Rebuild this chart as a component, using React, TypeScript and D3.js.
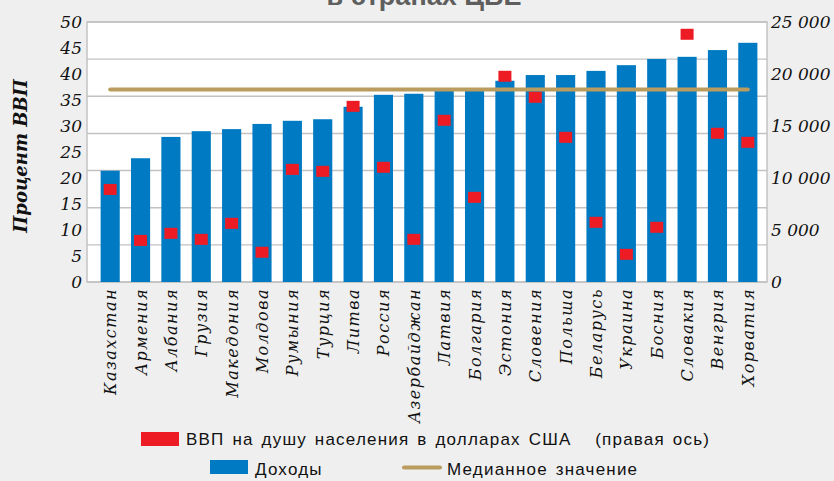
import React from "react";
import * as d3 from "d3";

const countries = [
  "Казахстан", "Армения", "Албания", "Грузия", "Македония", "Молдова",
  "Румыния", "Турция", "Литва", "Россия", "Азербайджан", "Латвия",
  "Болгария", "Эстония", "Словения", "Польша", "Беларусь", "Украина",
  "Босния", "Словакия", "Венгрия", "Хорватия",
];
const income = [
  21.4, 23.8, 27.9, 29.0, 29.4, 30.4, 31.0, 31.3, 33.7, 36.0, 36.2,
  36.8, 36.9, 38.7, 39.8, 39.8, 40.6, 41.7, 42.9, 43.3, 44.6, 46.0,
];
const gdpPerCapita = [
  8900, 4000, 4680, 4100, 5640, 2860, 10830, 10640, 16890, 11030, 4100,
  15550, 8140, 19780, 17760, 13910, 5740, 2660, 5260, 23820, 14300, 13430,
];
const median = 37;
const leftTicks = [0, 5, 10, 15, 20, 25, 30, 35, 40, 45, 50];
const rightTicks = [0, 5000, 10000, 15000, 20000, 25000];
const gridCount = 7;

const W = 834, H = 481;
const plot = { left: 87, right: 767, top: 22, bottom: 282 };

export default function App() {
  const yL = d3.scaleLinear().domain([0, 50]).range([plot.bottom, plot.top]);
  const yR = d3.scaleLinear().domain([0, 25000]).range([plot.bottom, plot.top]);
  const x = d3.scaleBand<string>().domain(countries).range([95, 763]).padding(0);
  const step = x.step();
  const bw = step * 0.63;
  const cx = (c: string) => (x(c) as number) + step / 2;
  const grid = d3.range(gridCount + 1).map((i) => (50 * i) / gridCount);
  const fmt = (v: number) => d3.format(",")(v).replace(/,/g, " ");
  const serif = "'DejaVu Serif', serif";
  const sans = "'Liberation Sans', Arial, sans-serif";
  const legendText = { fontFamily: sans, fontSize: 17, letterSpacing: 1.2, wordSpacing: 2, fill: "#111" };

  return (
    <svg width={W} height={H} style={{ position: "absolute", left: 0, top: 0, display: "block" }}>
      <rect x={0} y={0} width={W} height={H} fill="#efefef" />
      <text x={424} y={5} textAnchor="middle" fontFamily={sans} fontWeight="bold" fontSize={27} fill="#5e5e5e">
        в странах ЦВЕ
      </text>
      <rect x={plot.left} y={plot.top} width={plot.right - plot.left} height={plot.bottom - plot.top}
        fill="#ffffff" stroke="#c4c4c4" strokeWidth={1.5} />
      {grid.map((g, i) => (
        <line key={i} x1={plot.left} x2={plot.right} y1={yL(g)} y2={yL(g)} stroke="#c2c2c2" strokeWidth={1.4} />
      ))}
      {countries.map((c, i) => (
        <rect key={c} x={cx(c) - bw / 2} y={yL(income[i])} width={bw} height={plot.bottom - yL(income[i])} fill="#007ac3" />
      ))}
      <line x1={cx(countries[0])} x2={cx(countries[countries.length - 1])} y1={yL(median)} y2={yL(median)}
        stroke="#b99c5e" strokeWidth={4} strokeLinecap="round" />
      {countries.map((c, i) => (
        <rect key={c + "g"} x={cx(c) - 6.5} y={yR(gdpPerCapita[i]) - 5.5} width={13} height={11} fill="#ed1c24" />
      ))}
      {leftTicks.map((t) => (
        <text key={t} x={82} y={yL(t)} dy="0.36em" textAnchor="end" fontFamily={serif} fontStyle="italic" fontSize={17} fill="#111">
          {t}
        </text>
      ))}
      {rightTicks.map((t) => (
        <text key={t} x={771} y={yR(t)} dy="0.36em" textAnchor="start" fontFamily={serif} fontStyle="italic" fontSize={17} fill="#111">
          {fmt(t)}
        </text>
      ))}
      <text transform={`translate(27,156) rotate(-90)`} textAnchor="middle" fontFamily={serif} fontStyle="italic" fontWeight="bold" fontSize={18} fill="#111">
        Процент ВВП
      </text>
      {countries.map((c) => (
        <text key={c + "l"} transform={`translate(${cx(c) + 6},${288}) rotate(-90)`} textAnchor="end"
          fontFamily={serif} fontStyle="italic" fontSize={16} letterSpacing={1.5} fill="#111">
          {c}
        </text>
      ))}
      <rect x={141} y={432} width={38} height={14} fill="#ed1c24" />
      <text x={186} y={444.5} {...legendText} style={{ whiteSpace: "pre" }}>
        {"ВВП на душу населения в долларах США   (правая ось)"}
      </text>
      <rect x={210} y={460} width={38} height={14} fill="#007ac3" />
      <text x={255} y={474.5} {...legendText}>
        Доходы
      </text>
      <line x1={404} x2={440} y1={467.5} y2={467.5} stroke="#b99c5e" strokeWidth={4} strokeLinecap="round" />
      <text x={447} y={474.5} {...legendText}>
        Медианное значение
      </text>
    </svg>
  );
}
